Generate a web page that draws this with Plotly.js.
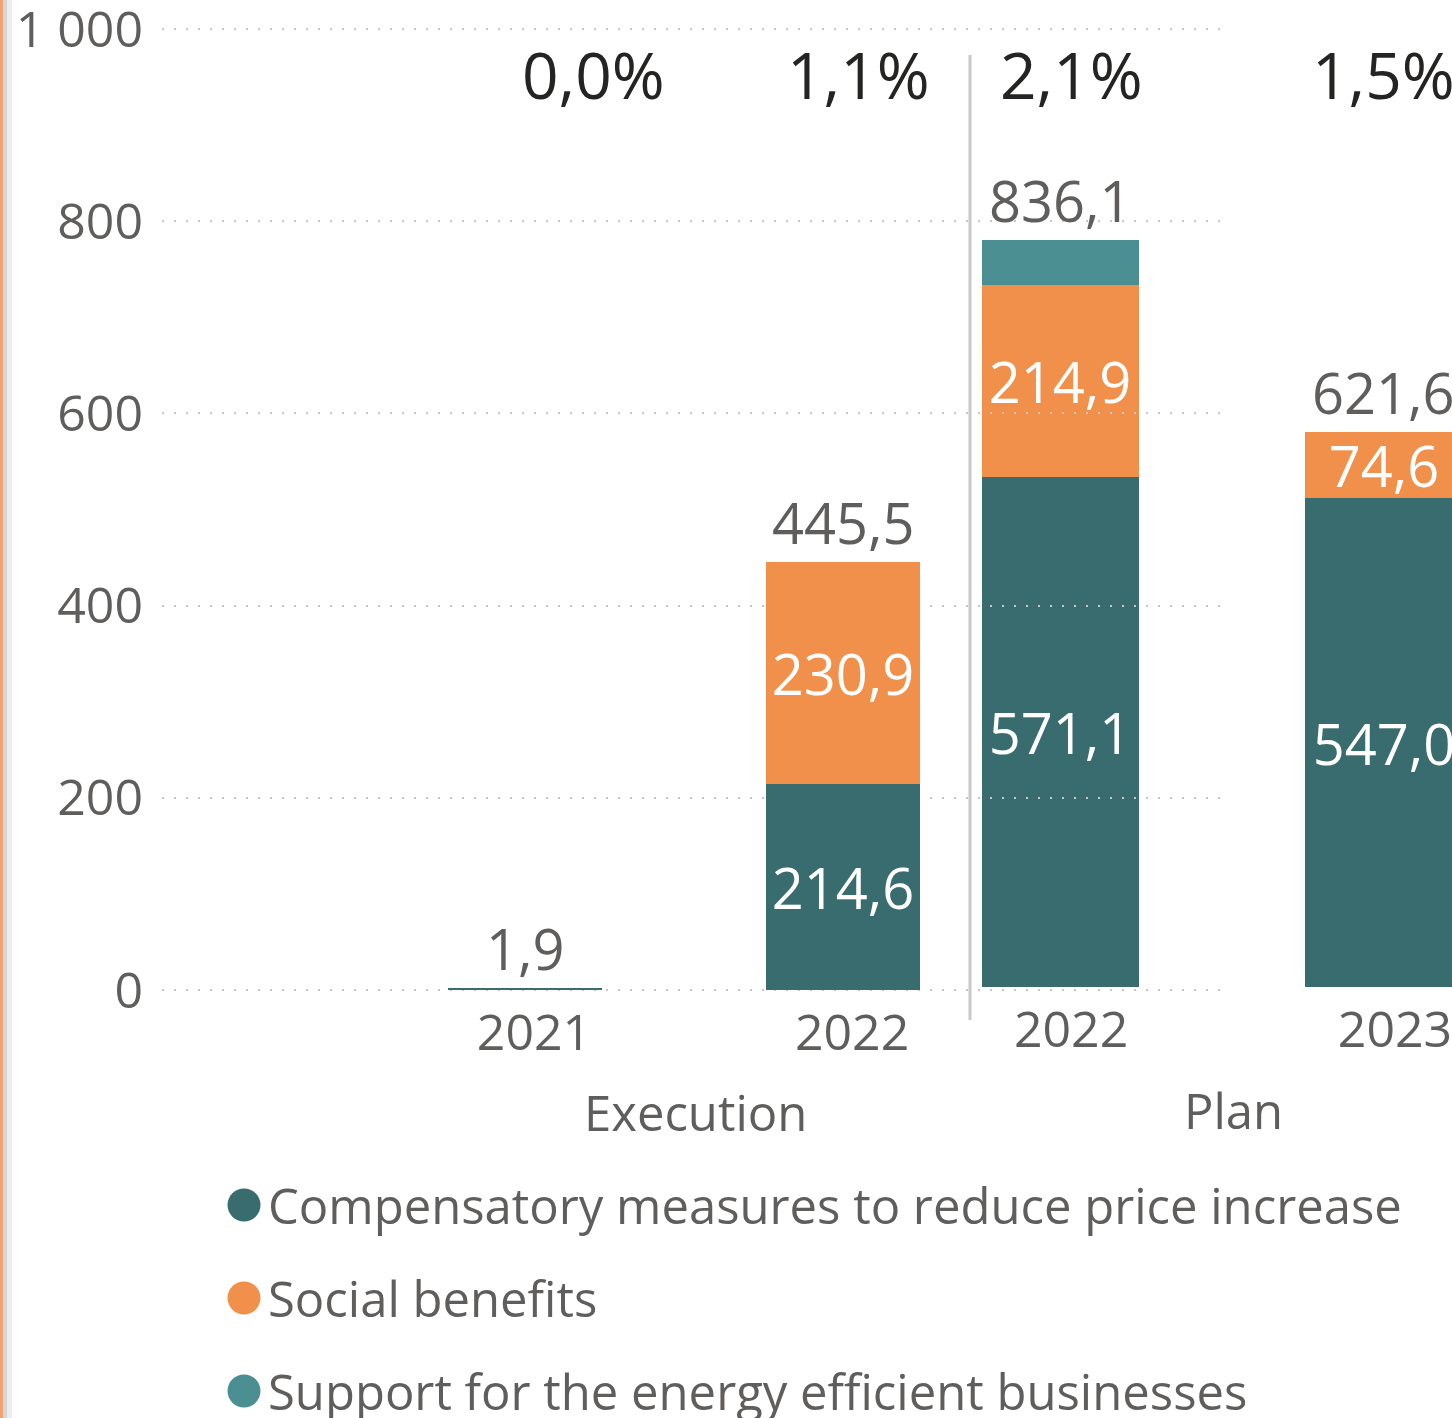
<!DOCTYPE html>
<html>
<head>
<meta charset="utf-8">
<script src="https://cdn.plot.ly/plotly-3.0.1.min.js"></script>
<style>
html, body { margin: 0; padding: 0; background: #fff; }
#chart { width: 1452px; height: 1418px; }
</style>
</head>
<body>
<div id="chart"></div>
<script>
// Execution vs Plan, by measure type
var execYears = ["2021", "2022"];
var planYears = ["2022", "2023"];

var execCompensatory = [1.9, 214.6];
var execSocial = [0, 230.9];
var execSupport = [0, 0];

var planCompensatory = [571.1, 547.0];
var planSocial = [214.9, 74.6];
var planSupport = [50.1, 0];

var execShare = ["0,0%", "1,1%"];
var planShare = ["2,1%", "1,5%"];

var seriesNames = ["Compensatory measures to reduce price increase", "Social benefits", "Support for the energy efficient businesses"];
var seriesColors = ["#386c6e", "#f0904a", "#4b8f92"];

var W = 1452, H = 1418;
var px = function (p) { return p / W; };
var py = function (p) { return 1 - p / H; };
var fmt = function (v) { return v.toFixed(1).replace(".", ","); };
// labels only where the segment is tall enough (like the original)
var inside = function (vals) { return vals.map(function (v) { return v > 60 ? fmt(v) : ""; }); };

function stack(years, series, xa, ya) {
  return series.map(function (vals, i) {
    return {
      type: "bar",
      name: seriesNames[i],
      x: years,
      y: vals,
      xaxis: xa,
      yaxis: ya,
      marker: { color: seriesColors[i], line: { width: 0 } },
      text: inside(vals),
      textposition: "inside",
      insidetextanchor: "middle",
      constraintext: "none",
      textfont: { color: "#ffffff", size: 56, family: "Open Sans" },
      hoverinfo: "skip"
    };
  });
}

// plan goes first so the execution grid is painted over it
var data = stack(planYears, [planCompensatory, planSocial, planSupport], "x", "y")
  .concat(stack(execYears, [execCompensatory, execSocial, execSupport], "x2", "y2"));

var sum = function (cols) { return cols[0].map(function (_, i) { return cols.reduce(function (s, c) { return s + c[i]; }, 0); }); };
var execTotal = sum([execCompensatory, execSocial, execSupport]);
var planTotal = sum([planCompensatory, planSocial, planSupport]);

// category annotations use the category index (year strings would read as numbers)
var annotations = [];
execYears.forEach(function (yr, i) {
  annotations.push({ x: i, y: execTotal[i], xref: "x2", yref: "y2", text: fmt(execTotal[i]), showarrow: false,
    xanchor: "center", yanchor: "bottom", yshift: 0, font: { size: 56, color: "#605e5c" } });
  annotations.push({ x: i, y: py(74), xref: "x2", yref: "paper", text: execShare[i], showarrow: false,
    xanchor: "center", yanchor: "middle", xshift: [68, 15][i], font: { size: 64, color: "#252423" } });
});
planYears.forEach(function (yr, i) {
  annotations.push({ x: i, y: planTotal[i], xref: "x", yref: "y", text: fmt(planTotal[i]), showarrow: false,
    xanchor: "center", yanchor: "bottom", yshift: 0, font: { size: 56, color: "#605e5c" } });
  annotations.push({ x: i, y: py(74), xref: "x", yref: "paper", text: planShare[i], showarrow: false,
    xanchor: "center", yanchor: "middle", xshift: [11, 0][i], font: { size: 64, color: "#252423" } });
});
annotations.push({ x: px(695), y: py(1112), xref: "paper", yref: "paper", text: "Execution", showarrow: false,
  xanchor: "center", yanchor: "middle", font: { size: 49 } });
annotations.push({ x: px(1233), y: py(1110), xref: "paper", yref: "paper", text: "Plan", showarrow: false,
  xanchor: "center", yanchor: "middle", font: { size: 49 } });

var shapes = [
  { type: "line", xref: "paper", yref: "paper", x0: px(970), x1: px(970), y0: py(1020), y1: py(55),
    line: { color: "#c8c8c8", width: 3 } },
  { type: "rect", xref: "paper", yref: "paper", x0: 0, x1: px(3), y0: 0, y1: 1, line: { width: 0 }, fillcolor: "#f0a272" },
  { type: "rect", xref: "paper", yref: "paper", x0: px(3), x1: px(7), y0: 0, y1: 1, line: { width: 0 }, fillcolor: "#d6d6d6" },
  { type: "rect", xref: "paper", yref: "paper", x0: px(7), x1: px(12), y0: 0, y1: 1, line: { width: 0 }, fillcolor: "#ededed" }
];

// legend with round markers
seriesNames.forEach(function (name, i) {
  var yc = py(1205 + i * 93);
  annotations.push({
    x: px(266), y: yc, xref: "paper", yref: "paper", xanchor: "left", yanchor: "middle", showarrow: false,
    text: name, font: { size: 49, color: "#605e5c" }
  });
  shapes.push({
    type: "circle", xref: "paper", yref: "paper", xsizemode: "pixel", ysizemode: "pixel",
    xanchor: px(244), yanchor: yc, x0: -16.5, x1: 16.5, y0: -16.5, y1: 16.5,
    fillcolor: seriesColors[i], line: { width: 0 }
  });
});

// 0 sits at 990px, 1000 at 29px; a little slack so the end grid lines are kept
var yDomain = [py(991.92), py(27.08)];

var layout = {
  width: W,
  height: H,
  margin: { l: 0, r: 0, t: 0, b: 0 },
  separators: ", ",
  barmode: "stack",
  bargap: 0.515,
  showlegend: false,
  paper_bgcolor: "#ffffff",
  plot_bgcolor: "rgba(0,0,0,0)",
  font: { family: "Open Sans", color: "#605e5c", size: 48 },
  xaxis: {
    domain: [px(970), 1], range: [-0.278, 1.21], type: "category", anchor: "y",
    showgrid: false, zeroline: false, showline: false, ticks: "", automargin: false,
    tickfont: { size: 50, color: "#605e5c" }, ticklabelstandoff: 4, ticklabelshift: 11
  },
  yaxis: {
    domain: yDomain, range: [-5.51, 1074.5], anchor: "x", visible: false, showgrid: false, zeroline: false
  },
  xaxis2: {
    domain: [px(162), px(1225)], range: [-1.1415, 2.201], type: "category", anchor: "y2",
    showgrid: false, zeroline: false, showline: false, ticks: "", automargin: false,
    tickfont: { size: 50, color: "#605e5c" }, ticklabelstandoff: 7, ticklabelshift: 9
  },
  yaxis2: {
    domain: yDomain, range: [-2, 1002], anchor: "x2",
    tickvals: [0, 200, 400, 600, 800, 1000], tickformat: ",d",
    showgrid: true, gridcolor: "#c8c6c4", gridwidth: 2, griddash: "2px,10px",
    zeroline: false, showline: false, ticks: "", automargin: false, ticklabeloverflow: "allow",
    tickfont: { size: 50, color: "#605e5c" }, ticklabelstandoff: 18
  },
  annotations: annotations,
  shapes: shapes
};

Plotly.newPlot("chart", data, layout, { displayModeBar: false, staticPlot: true });
</script>
</body>
</html>
